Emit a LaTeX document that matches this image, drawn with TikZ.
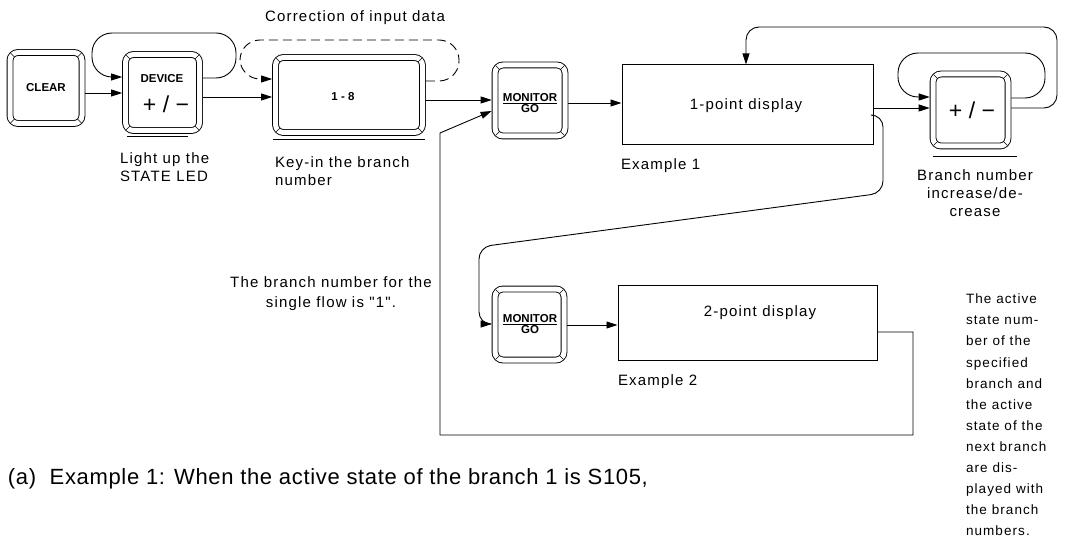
\documentclass[tikz,border=0pt]{standalone}
\usepackage{fontspec}
\setmainfont{Liberation Sans}
\newfontfamily\lblfont[LetterSpace=8]{Liberation Sans}
\newfontfamily\capfont[LetterSpace=3]{Liberation Sans}
\newfontfamily\pmfont[LetterSpace=28]{Liberation Sans}
\usetikzlibrary{arrows.meta,calc}
\newcommand\mylbl{\lblfont\fontsize{15}{18}\selectfont}
\newcommand\myside{\lblfont\fontsize{13.5}{21.1}\selectfont}
\newcommand\mykey{\bfseries\fontsize{11.5}{11.5}\selectfont}
\newcommand\mypm{\pmfont\fontsize{23}{23}\selectfont}
\newcommand\keycorners[1]{%
  \draw[thin] ($(#1.north west)+(3.8,3.8)$) -- ($(#1.north west)+(8,8)$);
  \draw[thin] ($(#1.north east)+(-3.8,3.8)$) -- ($(#1.north east)+(-8,8)$);
  \draw[thin] ($(#1.south west)+(3.8,-3.8)$) -- ($(#1.south west)+(8,-8)$);
  \draw[thin] ($(#1.south east)+(-3.8,-3.8)$) -- ($(#1.south east)+(-8,-8)$);}
\begin{document}
\begin{tikzpicture}[x=1pt,y=-1pt,
  every node/.style={inner sep=0pt,outer sep=0pt},
  key/.style={draw,double,double distance=5pt,line width=0.9pt,rounded corners=8pt,outer sep=3.4pt},
  disp/.style={draw,line width=1pt,outer sep=0.5pt},
  arr/.style={-{Triangle[length=11pt,width=7pt]},line width=0.9pt},
  loop/.style={arr,rounded corners=20pt},
  uline/.style={line width=1pt},
  lbl/.style={font=\mylbl},
  ktxt/.style={font=\mykey,align=center}]
\useasboundingbox (0,0) rectangle (1091,540);

% keys
\node[key,minimum width=72pt,minimum height=71pt] (clear) at (46,88) {};
\node[ktxt] (clearT) at (46,88) {CLEAR};
\node[key,minimum width=74pt,minimum height=76pt] (device) at (162.5,92.5) {};
\node[ktxt] (deviceT) at (162,79) {DEVICE};
\node[font=\mypm] (devicePM) at (166,104) {+/−};
\node[key,minimum width=147pt,minimum height=75pt] (k18) at (349,95) {};
\node[ktxt] (k18T) at (343,97) {1 - 8};
\node[key,minimum width=70pt,minimum height=71pt] (mon1) at (530,100.5) {};
\node[ktxt] (mon1T) at (530,103) {\underline{MONITOR}\\GO};
\node[key,minimum width=75pt,minimum height=72pt] (pm) at (970.5,110) {};
\node[font=\mypm] (pmT) at (972,110) {+/−};
\node[key,minimum width=69pt,minimum height=71pt] (mon2) at (529.5,324.5) {};
\node[ktxt] (mon2T) at (530,324) {\underline{MONITOR}\\GO};
\foreach \k in {clear,device,k18,mon1,pm,mon2} {\keycorners{\k}}

% displays
\node[disp,minimum width=251pt,minimum height=80pt] (disp1) at (747.5,105) {};
\node[lbl] (disp1T) at (746,106) {1-point display};
\node[disp,minimum width=259pt,minimum height=75pt] (disp2) at (747.5,322.5) {};
\node[lbl] (disp2T) at (760,313) {2-point display};

% underlines
\draw[uline] ($(device.south west)+(5,3)$) -- ($(device.south east)+(-15,3)$);
\draw[uline] ($(k18.south west)+(1,4)$) -- ($(k18.south east)+(-1,4)$);
\draw[uline] ($(pm.south west)+(3,7)$) -- ($(pm.south east)+(6,7)$);

% labels
\node[lbl] (corr) at (355,18) {Correction of input data};
\node[lbl,align=left,anchor=north west] (light) at (120,153) {Light up the\\STATE LED};
\node[lbl,align=left,anchor=north west] (keyin) at (275,157) {Key-in the branch\\number};
\node[lbl,anchor=west] (ex1) at (621,166) {Example 1};
\node[lbl,align=center,anchor=north] (brn) at (975,170) {Branch number\\increase/de-\\crease};
\node[lbl,align=center,anchor=north,font=\lblfont\fontsize{15}{19.5}\selectfont] (single) at (331,277) {The branch number for the\\single flow is "1".};
\node[lbl,anchor=west] (ex2) at (618,382) {Example 2};
\node[font=\myside,align=left,anchor=north west] (side) at (966,294) {The active\\state num-\\ber of the\\specified\\branch and\\the active\\state of the\\next branch\\are dis-\\played with\\the branch\\numbers.};
\node[anchor=west,font=\capfont\fontsize{22}{24}\selectfont] (cap) at (8,479) {(a)\ \ Example 1: When the active state of the branch 1 is S105,};

% connectors
\draw[arr] (clear.east|-0,93) -- (device.west|-0,93);
\draw[loop] (device.east|-0,78) -- (236,78) -- (236,33) -- (92,33) -- (92,77) -- (device.west|-0,77);
\draw[arr] (device.east|-0,97) -- (k18.west|-0,97);
\draw[loop,dashed,dash pattern=on 9pt off 5pt] (k18.east|-0,81) -- (459,81) -- (459,40) -- (240,40) -- (240,79) -- (k18.west|-0,79);
\draw[arr] (k18.east|-0,100) -- (mon1.west|-0,100);
\draw[arr] (mon1.east|-0,103) -- (disp1.west|-0,103);
\draw[arr] (disp1.east|-0,108) -- (pm.west|-0,108);
\draw[loop] (pm.east|-0,98) -- (1045,98) -- (1045,53) -- (898,53) -- (898,97) -- (pm.west|-0,97);
\draw[arr,rounded corners=13pt] (pm.east|-0,108) -- (1057,108) -- (1057,27) -- (746,27) -- (disp1.north-|746,0);
\draw[arr,rounded corners=12pt] (disp1.east|-0,115) -- (883,115) -- (883,193) -- (479,247) -- (479,324) -- (mon2.west|-0,324);
\draw[arr] (mon2.east|-0,325) -- (disp2.west|-0,325);
\draw[arr] (disp2.east|-0,332) -- (913,332) -- (913,435) -- (440,435) -- (440,133) -- (mon1.west|-0,111);
\end{tikzpicture}
\end{document}
